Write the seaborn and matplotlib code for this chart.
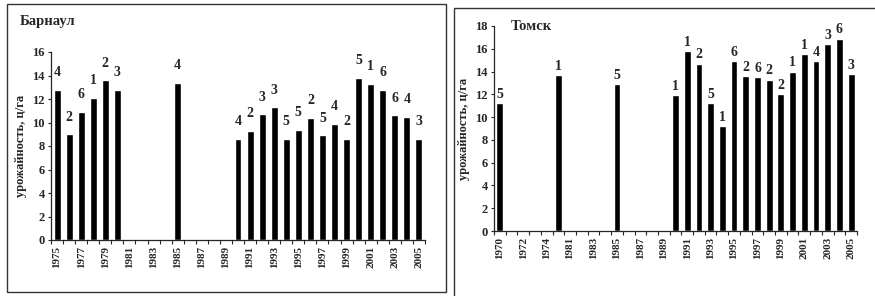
import numpy as np
import pandas as pd
import matplotlib
matplotlib.use("Agg")
import matplotlib.pyplot as plt
from matplotlib.patches import Rectangle
from matplotlib.ticker import FixedLocator
import seaborn as sns

# ── Барнаул ──
barnaul_years = [str(y) for y in range(1975, 2006)]
barnaul_yield = [12.8, 9.0, 10.9, 12.1, 13.6, 12.8,
                 0, 0, 0, 0, 13.4, 0, 0, 0, 0,
                 8.6, 9.3, 10.7, 11.3, 8.6, 9.4, 10.4, 8.9, 9.9, 8.6,
                 13.8, 13.3, 12.8, 10.6, 10.5, 8.6]
barnaul_marks = ["4", "2", "6", "1", "2", "3",
                 "", "", "", "", "4", "", "", "", "",
                 "4", "2", "3", "3", "5", "5", "2", "5", "4", "2",
                 "5", "1", "6", "6", "4", "3"]

# ── Томск ──
tomsk_years = ["1970", "1971", "1972", "1973", "1974", "1975"] + [str(y) for y in range(1981, 2006)]
tomsk_yield = [11.2, 0, 0, 0, 0, 13.7,
               0, 0, 0, 0, 12.9, 0, 0, 0, 0,
               11.9, 15.8, 14.7, 11.2, 9.2, 14.9, 13.6, 13.5, 13.3, 12.0,
               14.0, 15.5, 14.9, 16.4, 16.9, 13.8]
tomsk_marks = ["5", "", "", "", "", "1",
               "", "", "", "", "5", "", "", "", "",
               "1", "1", "2", "5", "1", "6", "2", "6", "2", "2",
               "1", "1", "4", "3", "6", "3"]
# tick labels shown under every other category (the 6th Томск slot is unlabeled)
tomsk_ticklabels = ["1970", "1972", "1974", "1981", "1983", "1985", "1987", "1989",
                    "1991", "1993", "1995", "1997", "1999", "2001", "2003", "2005"]

sns.set_style("ticks")
plt.rcParams["font.family"] = ["Liberation Serif", "DejaVu Serif"]
plt.rcParams["font.weight"] = "bold"

W, H = 875, 296
fig = plt.figure(figsize=(W / 100, H / 100), dpi=100)


def px_axes(x0, x1, ytop, ybot):
    return fig.add_axes([x0 / W, 1 - ybot / H, (x1 - x0) / W, (ybot - ytop) / H])


def draw_panel(ax, years, values, marks, ymax, ticklabels, gap):
    df = pd.DataFrame({"year": years, "value": values})
    sns.barplot(data=df, x="year", y="value", order=years, color="black",
                width=0.58, saturation=1, ax=ax)
    for i, (v, m) in enumerate(zip(values, marks)):
        if m:
            ax.text(i, v + gap, m, ha="center", va="bottom", fontsize=10,
                    fontweight="bold")
    n = len(years)
    ax.set_xlim(-0.5, n - 0.5)
    ax.set_ylim(0, ymax)
    ax.set_yticks(np.arange(0, ymax + 1, 2))
    ax.tick_params(axis="y", labelsize=9, length=2.5, width=0.8, pad=2)
    ax.xaxis.set_major_locator(FixedLocator(list(range(0, n, 2))))
    ax.set_xticklabels(ticklabels, rotation=90, fontsize=8, fontweight="bold")
    ax.tick_params(axis="x", which="major", length=0, pad=4)
    ax.xaxis.set_minor_locator(FixedLocator(np.arange(-0.5, n, 1.0)))
    ax.tick_params(axis="x", which="minor", length=3, width=0.8, direction="out")
    ax.set_xlabel("")
    ax.set_ylabel("урожайность, ц/га", fontsize=9, fontweight="bold", labelpad=4)
    sns.despine(ax=ax)
    for s in ["left", "bottom"]:
        ax.spines[s].set_linewidth(0.9)


ax1 = px_axes(51, 425, 52, 240)
draw_panel(ax1, barnaul_years, barnaul_yield, barnaul_marks, 16, barnaul_years[::2], 0.9)
fig.text(20 / W, 1 - 22 / H, "Барнаул", fontsize=10.5, fontweight="bold", va="center")

ax2 = px_axes(494, 857, 26, 231)
draw_panel(ax2, tomsk_years, tomsk_yield, tomsk_marks, 18, tomsk_ticklabels, 0.2)
fig.text(511 / W, 1 - 27 / H, "Томск", fontsize=10.5, fontweight="bold", va="center")

# scanned frames around the panels
fig.patches.append(Rectangle((7 / W, 1 - 292 / H), 439 / W, 288 / H, transform=fig.transFigure,
                             fill=False, edgecolor="#333333", linewidth=1.0))
fig.patches.append(Rectangle((454 / W, -0.01), 430 / W, 1 - 8 / H + 0.01, transform=fig.transFigure,
                             fill=False, edgecolor="#333333", linewidth=1.0))

fig.savefig("out.png", dpi=100, facecolor="white")
